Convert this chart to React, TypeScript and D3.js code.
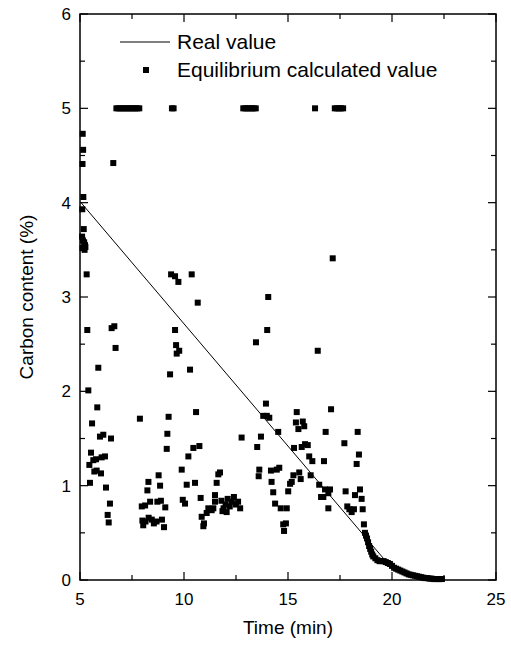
import * as d3 from 'd3';

// Real value (line)
const realTime = [5.05, 19.7, 19.9, 20.2, 20.5, 20.8, 21.1, 21.4, 21.7, 22.0, 22.4];
const realCarbon = [4.0, 0.2, 0.17, 0.12, 0.09, 0.06, 0.045, 0.03, 0.02, 0.01, 0.01];

// Equilibrium calculated value (squares) in groups
const saturated: [number, number][] = [
  [6.75, 5], [6.85, 5], [6.95, 5], [7.05, 5], [7.15, 5], [7.25, 5], [7.35, 5], [7.45, 5],
  [7.55, 5], [7.65, 5], [7.75, 5], [7.85, 5], [9.42, 5], [9.5, 5],
  [12.85, 5], [12.95, 5], [13.05, 5], [13.15, 5], [13.25, 5], [13.35, 5], [13.45, 5],
  [16.3, 5], [17.25, 5], [17.35, 5], [17.45, 5], [17.55, 5], [17.65, 5],
];

const startPoints: [number, number][] = [
  [5.13, 4.73], [5.15, 4.56], [5.12, 4.41], [5.16, 4.06], [5.11, 3.93], [5.18, 3.72],
  [5.1, 3.64], [5.14, 3.6], [5.2, 3.58], [5.24, 3.55], [5.12, 3.52], [5.22, 3.5],
  [5.26, 3.53], [5.32, 3.24], [5.35, 2.65], [5.4, 2.01], [6.6, 4.42],
];

const highPoints: [number, number][] = [
  [5.88, 2.25], [6.52, 2.67], [6.65, 2.69], [6.71, 2.46], [9.33, 2.18], [9.38, 3.24],
  [9.57, 3.22], [9.73, 3.16], [10.37, 3.24], [10.66, 2.94], [9.57, 2.65], [9.62, 2.49],
  [9.65, 2.4], [9.77, 2.43], [10.29, 2.23], [13.46, 2.52], [14.0, 2.65], [14.05, 3.0],
  [17.15, 3.41], [16.43, 2.43],
];

const lowEarly: [number, number][] = [
  [5.83, 1.83], [5.58, 1.66], [5.96, 1.52], [6.12, 1.54], [6.49, 1.5], [5.53, 1.35],
  [5.45, 1.22], [5.64, 1.27], [5.77, 1.28], [6.04, 1.3], [6.2, 1.31], [5.69, 1.15],
  [5.8, 1.16], [5.48, 1.03], [6.01, 1.13], [6.25, 0.98], [6.44, 0.81], [6.33, 0.69],
  [6.38, 0.61], [7.88, 1.71], [9.26, 1.73], [9.2, 1.55], [9.17, 1.39], [8.29, 1.04],
  [8.24, 0.95], [8.78, 1.11], [8.85, 1.0], [7.97, 0.78], [8.13, 0.79], [8.37, 0.83],
  [8.72, 0.83], [8.89, 0.84], [9.1, 0.77], [8.0, 0.63], [8.15, 0.62], [8.3, 0.66],
  [8.45, 0.64], [8.55, 0.6], [8.68, 0.62], [8.04, 0.58], [8.94, 0.64], [9.04, 0.56],
];

const lowMiddle: [number, number][] = [
  [9.89, 1.17], [10.21, 1.31], [10.45, 1.4], [10.74, 1.42], [10.58, 1.78], [10.13, 1.01],
  [10.53, 1.03], [9.94, 0.85], [10.05, 0.81], [10.8, 0.87], [10.85, 0.67], [10.96, 0.6],
  [10.93, 0.57], [11.09, 0.71], [11.17, 0.76], [11.33, 0.74], [11.41, 0.76], [11.49, 0.83],
  [11.57, 1.03], [11.65, 1.12], [11.73, 1.14], [11.49, 0.9], [11.8, 0.84], [11.85, 0.73],
  [11.9, 0.76], [12.0, 0.8], [12.05, 0.72], [12.1, 0.86], [12.2, 0.78], [12.3, 0.83],
  [12.4, 0.88], [12.5, 0.8], [12.6, 0.83], [12.7, 0.76], [12.77, 1.51], [13.52, 1.41],
  [13.62, 1.17], [13.59, 1.1], [13.7, 1.52], [13.94, 1.87], [13.81, 1.74], [13.98, 1.74],
  [14.1, 1.72], [14.53, 1.57],
];

const lowLate: [number, number][] = [
  [14.18, 1.16], [14.46, 1.17], [14.58, 1.19], [14.21, 1.04], [14.29, 0.93], [14.38, 0.81],
  [14.65, 0.76], [14.94, 0.76], [14.77, 0.59], [14.9, 0.6], [14.81, 0.52], [15.01, 0.94],
  [15.1, 1.02], [15.18, 1.04], [15.26, 1.11], [15.54, 1.14], [15.61, 1.07], [15.29, 1.4],
  [15.42, 1.78], [15.38, 1.67], [15.5, 1.6], [15.71, 1.68], [15.78, 1.63], [15.66, 1.41],
  [15.82, 1.44], [15.95, 1.43], [16.02, 1.31], [16.17, 1.26], [16.09, 1.11], [16.5, 1.01],
  [16.59, 0.88], [16.7, 0.88], [16.78, 0.96], [16.94, 0.92], [17.02, 0.96], [16.94, 0.76],
  [16.73, 1.26], [16.81, 1.57], [17.07, 1.81], [17.71, 1.45], [17.77, 0.94], [17.85, 0.78],
  [17.95, 0.75], [18.06, 0.72], [18.17, 0.75], [18.22, 0.9], [18.35, 1.57], [18.41, 1.33],
  [18.3, 1.23], [18.46, 0.96], [18.54, 0.86], [18.59, 0.75], [18.65, 0.59],
];

const tail: [number, number][] = [
  [18.7, 0.5], [18.75, 0.47], [18.8, 0.44], [18.85, 0.4], [18.9, 0.36], [18.95, 0.33],
  [19.0, 0.3], [19.05, 0.27], [19.1, 0.25], [19.2, 0.23], [19.3, 0.21], [19.4, 0.2],
  [19.5, 0.2], [19.6, 0.2], [19.7, 0.19], [19.8, 0.18], [19.9, 0.17], [20.0, 0.15],
  [20.1, 0.13], [20.2, 0.12], [20.3, 0.11], [20.4, 0.1], [20.5, 0.09], [20.6, 0.08],
  [20.7, 0.07], [20.8, 0.06], [20.9, 0.055], [21.0, 0.05], [21.1, 0.045], [21.2, 0.04],
  [21.3, 0.035], [21.4, 0.03], [21.5, 0.025], [21.6, 0.02], [21.7, 0.02], [21.8, 0.015],
  [21.9, 0.015], [22.0, 0.01], [22.1, 0.01], [22.2, 0.01], [22.3, 0.01], [22.4, 0.01],
];

const xTicks = [5, 10, 15, 20, 25];
const yTicks = [0, 1, 2, 3, 4, 5, 6];

export default function App() {
  const width = 511;
  const height = 646;
  const margin = { top: 14, right: 15, bottom: 66, left: 80 };
  const font = 'Liberation Sans, Arial, sans-serif';

  const x = d3.scaleLinear().domain([5, 25]).range([margin.left, width - margin.right]);
  const y = d3.scaleLinear().domain([0, 6]).range([height - margin.bottom, margin.top]);

  const [x0, x1] = x.range();
  const [y0, y1] = y.range();

  const xMinor = d3.range(7.5, 25, 5);
  const yMinor = d3.range(0.5, 6, 1);

  const line = d3
    .line<number>()
    .x((_, i) => x(realTime[i]))
    .y((d) => y(d));

  const points = [...saturated, ...startPoints, ...highPoints, ...lowEarly, ...lowMiddle, ...lowLate, ...tail];
  const s = 6;

  const major = 8;
  const minor = 5;

  return (
    <svg
      width={width}
      height={height}
      style={{ position: 'absolute', left: 0, top: 0, background: '#fff' }}
      fontFamily={font}
    >
      <path d={line(realCarbon) ?? ''} fill="none" stroke="#000" strokeWidth={1} />
      {points.map(([t, c], i) => (
        <rect key={i} x={x(t) - s / 2} y={y(c) - s / 2} width={s} height={s} fill="#000" />
      ))}

      {/* frame */}
      <rect x={x0} y={y1} width={x1 - x0} height={y0 - y1} fill="none" stroke="#000" strokeWidth={1.5} />

      {/* ticks, pointing inward on all sides */}
      {xTicks.map((t) => (
        <g key={'xt' + t}>
          <line x1={x(t)} x2={x(t)} y1={y0} y2={y0 - major} stroke="#000" strokeWidth={1.2} />
          <line x1={x(t)} x2={x(t)} y1={y1} y2={y1 + major} stroke="#000" strokeWidth={1.2} />
          <text x={x(t)} y={y0 + 25} textAnchor="middle" fontSize={17}>
            {t}
          </text>
        </g>
      ))}
      {xMinor.map((t) => (
        <g key={'xm' + t}>
          <line x1={x(t)} x2={x(t)} y1={y0} y2={y0 - minor} stroke="#000" strokeWidth={1.2} />
          <line x1={x(t)} x2={x(t)} y1={y1} y2={y1 + minor} stroke="#000" strokeWidth={1.2} />
        </g>
      ))}
      {yTicks.map((c) => (
        <g key={'yt' + c}>
          <line x1={x0} x2={x0 + major} y1={y(c)} y2={y(c)} stroke="#000" strokeWidth={1.2} />
          <line x1={x1} x2={x1 - major} y1={y(c)} y2={y(c)} stroke="#000" strokeWidth={1.2} />
          <text x={x0 - 9} y={y(c) + 6} textAnchor="end" fontSize={17}>
            {c}
          </text>
        </g>
      ))}
      {yMinor.map((c) => (
        <g key={'ym' + c}>
          <line x1={x0} x2={x0 + minor} y1={y(c)} y2={y(c)} stroke="#000" strokeWidth={1.2} />
          <line x1={x1} x2={x1 - minor} y1={y(c)} y2={y(c)} stroke="#000" strokeWidth={1.2} />
        </g>
      ))}

      {/* axis titles */}
      <text x={(x0 + x1) / 2} y={634} textAnchor="middle" fontSize={19}>
        Time (min)
      </text>
      <text
        transform={`translate(33,${(y0 + y1) / 2}) rotate(-90)`}
        textAnchor="middle"
        fontSize={19}
      >
        Carbon content (%)
      </text>

      {/* legend */}
      <line x1={120} x2={170} y1={42} y2={42} stroke="#000" strokeWidth={1} />
      <text x={177} y={49} fontSize={21}>
        Real value
      </text>
      <rect x={146 - s / 2} y={70 - s / 2} width={s} height={s} fill="#000" />
      <text x={177} y={77} fontSize={21}>
        Equilibrium calculated value
      </text>
    </svg>
  );
}
